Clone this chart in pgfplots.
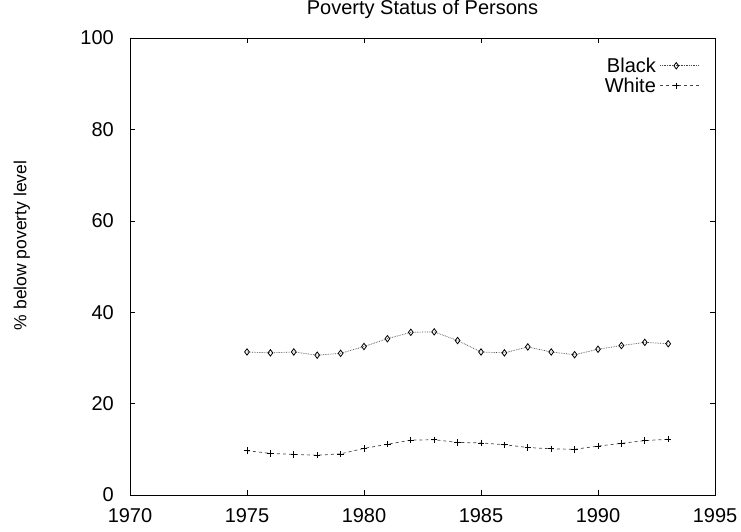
\documentclass[border=0pt]{standalone}
\usepackage{fontspec}
\setmainfont{Liberation Sans}
\usepackage{pgfplots}
\pgfplotsset{compat=1.18}
\begin{document}
\begin{tikzpicture}
\begin{axis}[
  scale only axis,
  width=585pt, height=457pt,
  xmin=1970, xmax=1995, ymin=0, ymax=100,
  xtick={1970,1975,...,1995},
  ytick={0,20,...,100},
  tick align=inside,
  major tick length=5pt,
  tick style={black, line width=0.6pt},
  axis line style={line width=0.7pt},
  /pgf/number format/assume math mode=true,
  xticklabel style={/pgf/number format/1000 sep={}, inner sep=0pt, yshift=-13pt},
  yticklabel style={inner sep=0pt, xshift=-16pt},
  tick label style={font=\fontsize{20}{22}\selectfont},
  title={Poverty Status of Persons},
  title style={font=\fontsize{20}{22}\selectfont, at={(axis description cs:0.5,1)},
    anchor=base, inner sep=0pt, yshift=17pt},
  ylabel={\% below poverty level},
  ylabel style={font=\fontsize{17.5}{20}\selectfont, at={(axis description cs:-0.185,0.546)},
    anchor=center, inner sep=0pt},
  legend style={draw=none, fill=none, at={(axis description cs:0.974,0.955)}, anchor=north east,
    font=\fontsize{20}{18}\selectfont, row sep=6pt, inner sep=0pt, column sep=4pt,
    nodes={text height=14pt, text depth=0pt, inner sep=0pt}},
  legend plot pos=right,
  legend cell align=right,
  legend image code/.code={%
    \draw[#1, mark repeat=2, mark phase=2] plot coordinates {(0pt,0pt) (16pt,0pt) (39pt,0pt)};},
]
\addplot[gray!55!black, densely dotted, line width=0.7pt,
  mark=diamond, mark size=3.2pt, mark options={solid, black, line width=0.8pt}]
  coordinates {
  (1975,31.3) (1976,31.1) (1977,31.3) (1978,30.6) (1979,31.0)
  (1980,32.5) (1981,34.2) (1982,35.6) (1983,35.7) (1984,33.8)
  (1985,31.3) (1986,31.1) (1987,32.4) (1988,31.3) (1989,30.7)
  (1990,31.9) (1991,32.7) (1992,33.4) (1993,33.1)};
\addlegendentry{Black}
\addplot[gray!55!black, dashed, line width=0.7pt,
  mark=+, mark size=3.2pt, mark options={solid, black, line width=0.7pt}]
  coordinates {
  (1975,9.7) (1976,9.1) (1977,8.9) (1978,8.7) (1979,9.0)
  (1980,10.2) (1981,11.1) (1982,12.0) (1983,12.1) (1984,11.5)
  (1985,11.4) (1986,11.0) (1987,10.4) (1988,10.1) (1989,10.0)
  (1990,10.7) (1991,11.3) (1992,11.9) (1993,12.2)};
\addlegendentry{White}
\end{axis}
\pgfresetboundingbox
\path (-130pt,-36pt) rectangle (611pt,495pt);
\end{tikzpicture}
\end{document}
